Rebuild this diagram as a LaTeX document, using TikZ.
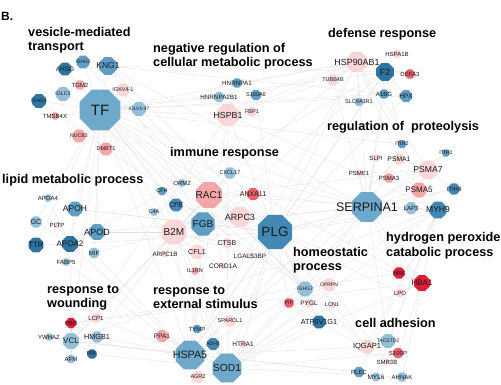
\documentclass[tikz,border=0pt]{standalone}
\usepackage{fontspec}
\setmainfont{Liberation Sans}
\usetikzlibrary{shapes.geometric,backgrounds}
\definecolor{dbl}{HTML}{2D74A2}
\definecolor{mdb}{HTML}{4288B4}
\definecolor{mbl}{HTML}{5E9DC4}
\definecolor{tfb}{HTML}{6EA8CA}
\definecolor{lbl}{HTML}{93BFD9}
\definecolor{lpk}{HTML}{FBD6D8}
\definecolor{pnk}{HTML}{F5A5A8}
\definecolor{rpk}{HTML}{EC6169}
\definecolor{red}{HTML}{E11D35}
\definecolor{edgegray}{HTML}{E2E2E2}
\begin{document}
\begin{tikzpicture}[x=1pt,y=-1pt,
  oct/.style={regular polygon, regular polygon sides=8, draw=none, inner sep=0pt, outer sep=0pt},
  lbl/.style={inner sep=0pt, text=black!90},
  cat/.style={font=\bfseries\fontsize{12.7}{14}\selectfont, anchor=base west, inner sep=0pt},
  edge/.style={draw=edgegray, line width=0.3pt}]
\useasboundingbox (0,0) rectangle (501,384);
% nodes
\foreach \nm/\px/\py/\sz/\col/\fs in {
TF/100/110/44/tfb/15, KNG1/108/66/19/mbl/8.5, AHSG/65/69/14/dbl/6.5, IGHG2/83/62/14/mbl/4.5,
TGM2/80/85/10/pnk/6, IGKV4-1/123/90/14/lpk/5.5, IGLC3/63/94/15/lbl/5, IGHG4/39/101/15/dbl/4.8,
IGLV1-47/139/109/15/lbl/4.7, TMSB4X/55/116/8/pnk/6, NUCB2/79/136/14/pnk/5, DMBT1/106/149/14/pnk/5.5,
HNRNPA1/237/83/10/mbl/6.3, HNRNPA2B1/219/97/11/lbl/6.3, S100A6/256/95/11/mbl/5.5, HSPB1/228/115/24/lpk/8.8,
FBP1/252/112/10/lpk/5.5, HSP90AB1/357/62/22/lpk/8.9, HSPA1B/397/54/9/lpk/6, F2/385/72/19/dbl/9,
DEFA3/410/74/10/rpk/6, TUBB4B/333/80/12/lpk/5.5, A1BG/384/94/10/mbl/6, HPX/406/96/13/mbl/6.5,
SLC9A3R1/359/102/9/lbl/5.5, ITIH2/402/144/9/mbl/5.5, ITIH1/446/153/8/mbl/5.5, SLPI/376/158/8/lpk/6,
PSMA1/399/159/12/lpk/6.8, PSME1/359/173/7/lpk/6, PSMA3/389/178/10/pnk/6, PSMA7/428/170/20/lpk/8.6,
PSMA5/419/190/16/pnk/8, ITIH4/454/189/12/mdb/6, SERPINA1/367/207/32/tfb/12.5, LAP3/411/208/13/lbl/6,
MYH9/438/210/18/mdb/8.5, APOA4/48/198/8/lbl/6, APOH/75/209/16/mbl/8.5, CFH/162/191/9/mbl/5.5,
ORM2/182/183/8/lbl/6, CXCL17/230/173/12/lbl/5.5, RAC1/209/195/28/pnk/10, ANXA11/253/194/13/rpk/7,
CFB/176/205/14/mdb/7, C4A/154/212/8/lbl/5.5, ARPC3/240/217/22/lpk/9, FGB/203/224/25/mbl/10,
PLG/275/232/37/mdb/13.5, B2M/174/232/27/lpk/10, GC/36/222/12/lbl/7, PLTP/57/225/7/lpk/6,
APOD/97/232/17/mbl/9, TTR/36/245/16/dbl/7.7, APOA2/70/244/17/dbl/8, MIF/94/253/11/lbl/6,
FABP5/66/262/8/lbl/6, CTSB/227/243/10/lpk/7, CFL1/197/252/15/lpk/7.2, ARPC1B/165/254/7/lpk/6.2,
LGALS3BP/250/256/7/lpk/6.3, IL1RN/195/271/8/pnk/5.5, CORO1A/223/266/7/lpk/6.6, IGHG3/305/289/16/lbl/5,
OPRPN/329/285/14/lpk/5, PIP/289/303/10/rpk/5.5, PYGL/309/303/9/lpk/6.5, LCN1/332/305/7/lpk/5.5,
ATP6V1G1/319/322/14/dbl/7.3, HBB/399/273/12/red/6, HBA1/422/283/17/red/8, LPO/400/293/9/lpk/6,
IQGAP1/367/347/15/lpk/7.5, TACSTD2/388/341/15/lbl/5, S100P/398/353/11/rpk/6, SMR3B/387/362/6/lpk/6,
PLEC/359/372/11/mbl/6, MYL6/376/377/9/lbl/6.5, AHNAK/402/377/10/lbl/6, HBD/71/323/11/red/6,
LCP1/96/318/10/lpk/6, YWHAZ/49/337/8/lbl/6, VCL/71/341/17/lbl/8, HMGB1/97/337/12/lbl/7.3,
PPL/92/354/10/dbl/5.5, AFM/71/359/9/lbl/6, PPA1/162/336/13/pnk/6.5, TYMP/197/329/9/mbl/6,
SPARCL1/230/321/12/lpk/5.5, ADH5/213/344/13/mdb/5, HTRA1/243/344/8/lpk/6.5, HSPA5/190/355/31/tfb/10.7,
SOD1/227/368/31/tfb/10.3, AGR2/198/377/13/lpk/5.5}
  \node[oct, fill=\col, minimum size=\sz pt] (\nm) at (\px,\py) {};
% labels
\foreach \nm/\fs in {
TF/15, KNG1/8.5, AHSG/6.5, IGHG2/4.8, TGM2/6, IGKV4-1/5.5, IGLC3/5.2, IGHG4/5, IGLV1-47/4.9, TMSB4X/6,
NUCB2/5.2, DMBT1/5.5, HNRNPA1/6.3, HNRNPA2B1/6.3, S100A6/5.5, HSPB1/8.8, FBP1/5.5, HSP90AB1/8.9,
HSPA1B/6, F2/9, DEFA3/6, TUBB4B/5.5, A1BG/6, HPX/6.5, SLC9A3R1/5.5, ITIH2/5.5, ITIH1/5.5, SLPI/6,
PSMA1/6.8, PSME1/6, PSMA3/6, PSMA7/8.6, PSMA5/8, ITIH4/6, SERPINA1/12.5, LAP3/6, MYH9/8.5, APOA4/6,
APOH/8.5, CFH/5.5, ORM2/6, CXCL17/5.5, RAC1/10, ANXA11/7, CFB/7, C4A/5.5, ARPC3/9, FGB/10, PLG/13.5,
B2M/10, GC/7, PLTP/6, APOD/9, TTR/7.7, APOA2/8, MIF/6, FABP5/6, CTSB/7, CFL1/7.2, ARPC1B/6.2,
LGALS3BP/6.3, IL1RN/5.5, CORO1A/6.6, IGHG3/5, OPRPN/5, PIP/5.5, PYGL/6.5, LCN1/5.5, ATP6V1G1/7.3,
HBB/6, HBA1/8, LPO/6, IQGAP1/7.5, TACSTD2/5, S100P/6, SMR3B/6, PLEC/6, MYL6/6.5, AHNAK/6, HBD/6,
LCP1/6, YWHAZ/6, VCL/8, HMGB1/7.3, PPL/5.5, AFM/6, PPA1/6.5, TYMP/6, SPARCL1/5.5, ADH5/5, HTRA1/6.5,
HSPA5/10.7, SOD1/10.3, AGR2/5.5}
  \node[lbl, font=\fontsize{\fs}{\fs}\selectfont] (L-\nm) at (\nm) {\nm};
% category labels
\node[cat, font=\bfseries\fontsize{12}{14}\selectfont] (cB) at (1,20) {B.};
\node[cat] (cV1) at (28,36) {vesicle-mediated};
\node[cat] (cV2) at (28,50) {transport};
\node[cat] (cN1) at (153,52) {negative regulation of};
\node[cat] (cN2) at (153,66.5) {cellular metabolic process};
\node[cat] (cD) at (328,37.5) {defense response};
\node[cat] (cP) at (327,130) {regulation of\ \ proteolysis};
\node[cat] (cL) at (2,183) {lipid metabolic process};
\node[cat] (cI) at (170,156) {immune response};
\node[cat] (cH1) at (386,241) {hydrogen peroxide};
\node[cat] (cH2) at (386,256) {catabolic process};
\node[cat] (cHo1) at (293,256) {homeostatic};
\node[cat] (cHo2) at (293,270) {process};
\node[cat] (cW1) at (47,293) {response to};
\node[cat] (cW2) at (47,307) {wounding};
\node[cat] (cE1) at (153,294) {response to};
\node[cat] (cE2) at (153,308.5) {external stimulus};
\node[cat] (cC) at (355,327) {cell adhesion};
% edges
\begin{pgfonlayer}{background}
\fill[white] (0,0) rectangle (501,384);
\foreach \a/\b in {
TF/KNG1, TF/AHSG, TF/IGHG2, TF/IGLC3, TF/IGHG4, TF/TGM2, TF/IGKV4-1, TF/IGLV1-47, TF/TMSB4X, TF/NUCB2,
TF/DMBT1, TF/APOH, TF/APOD, TF/APOA2, TF/TTR, TF/GC, TF/FGB, TF/PLG, TF/SERPINA1, TF/HSPB1,
TF/HNRNPA2B1, TF/RAC1, TF/B2M, TF/CFH, TF/CFB, TF/HSP90AB1, TF/F2, TF/HPX, TF/HSPA5, TF/SOD1,
TF/VCL, TF/ORM2, TF/HBA1, TF/MIF, TF/A1BG, TF/ITIH2,
PLG/FGB, PLG/KNG1, PLG/F2, PLG/SERPINA1, PLG/APOA2, PLG/APOH, PLG/CFB, PLG/ANXA11, PLG/ARPC3,
PLG/HSPA5, PLG/SOD1, PLG/ITIH4, PLG/HPX, PLG/IGHG3, PLG/HBA1, PLG/PIP, PLG/CTSB, PLG/CXCL17,
PLG/HSPB1, PLG/HSP90AB1, PLG/ATP6V1G1, PLG/LPO, PLG/IQGAP1, PLG/MYH9, PLG/LAP3, PLG/S100A6,
PLG/HTRA1, PLG/SPARCL1,
SERPINA1/F2, SERPINA1/A1BG, SERPINA1/ITIH1, SERPINA1/ITIH2, SERPINA1/ITIH4, SERPINA1/PSMA7,
SERPINA1/PSMA5, SERPINA1/SLPI, SERPINA1/PSME1, SERPINA1/LAP3, SERPINA1/MYH9, SERPINA1/HBB,
SERPINA1/HBA1, SERPINA1/HSPA5, SERPINA1/SOD1, SERPINA1/FGB, SERPINA1/KNG1, SERPINA1/APOD,
SERPINA1/TUBB4B, SERPINA1/HSP90AB1, SERPINA1/OPRPN, SERPINA1/IGHG3, SERPINA1/TACSTD2,
SERPINA1/ANXA11, SERPINA1/CXCL17,
HSPA5/SOD1, HSPA5/HSPB1, HSPA5/HSP90AB1, HSPA5/VCL, HSPA5/HMGB1, HSPA5/PPA1, HSPA5/TYMP, HSPA5/ADH5,
HSPA5/AGR2, HSPA5/RAC1, HSPA5/CFL1, HSPA5/B2M, HSPA5/MIF, HSPA5/YWHAZ, HSPA5/HSPA1B, HSPA5/PSMA1,
HSPA5/IQGAP1, HSPA5/MYH9, HSPA5/FABP5, HSPA5/APOA2, HSPA5/LCP1, HSPA5/PLEC,
SOD1/ADH5, SOD1/SPARCL1, SOD1/HTRA1, SOD1/AGR2, SOD1/PPA1, SOD1/HSPB1, SOD1/B2M, SOD1/CFL1,
SOD1/MYH9, SOD1/PIP, SOD1/PYGL, SOD1/ATP6V1G1, SOD1/S100P, SOD1/AHNAK, SOD1/HBA1, SOD1/LCN1,
SOD1/IL1RN, SOD1/PPL,
B2M/FGB, B2M/RAC1, B2M/CFL1, B2M/ARPC1B, B2M/CFH, B2M/C4A, B2M/ORM2, B2M/CFB, B2M/APOD, B2M/MIF,
B2M/IL1RN, B2M/CTSB, B2M/LGALS3BP, B2M/VCL, B2M/HMGB1,
RAC1/ARPC3, RAC1/CFL1, RAC1/CORO1A, RAC1/ANXA11, RAC1/CXCL17, RAC1/HSP90AB1, RAC1/IQGAP1,
RAC1/MYH9, RAC1/ARPC1B, RAC1/VCL, RAC1/LCP1, RAC1/PSMA7,
HSP90AB1/HSPA1B, HSP90AB1/F2, HSP90AB1/DEFA3, HSP90AB1/TUBB4B, HSP90AB1/HSPB1, HSP90AB1/S100A6,
HSP90AB1/HNRNPA1, HSP90AB1/PSMA7, HSP90AB1/PSMA1, HSP90AB1/MYH9, HSP90AB1/SLC9A3R1,
HSPB1/FBP1, HSPB1/HNRNPA1, HSPB1/HNRNPA2B1, HSPB1/S100A6, HSPB1/TUBB4B, HSPB1/MYH9, HSPB1/VCL,
F2/DEFA3, F2/HPX, F2/A1BG, F2/KNG1, F2/FGB, F2/APOA2, F2/ITIH2,
PSMA7/PSMA1, PSMA7/PSMA3, PSMA7/PSMA5, PSMA7/PSME1, PSMA7/ITIH1, PSMA7/ITIH4, PSMA7/MYH9,
MYH9/IQGAP1, MYH9/PLEC, MYH9/MYL6, MYH9/AHNAK, MYH9/TACSTD2, MYH9/LAP3, MYH9/VCL,
HBA1/HBB, HBA1/LPO, HBA1/HBD, HBA1/S100P, HBB/HBD,
VCL/HBD, VCL/LCP1, VCL/YWHAZ, VCL/HMGB1, VCL/PPL, VCL/AFM, VCL/PLEC,
APOA2/TTR, APOA2/APOA4, APOA2/GC, APOA2/PLTP, APOA2/APOD, APOA2/APOH, APOA2/FABP5, APOA2/AFM,
FGB/KNG1, FGB/CFB, FGB/CFH, FGB/APOH, FGB/ANXA11, KNG1/AHSG, KNG1/IGHG2, KNG1/HPX,
IGHG3/IGHG2, IGHG3/IGHG4, IGHG3/IGLC3, IGHG3/IGKV4-1, IGHG3/OPRPN, PIP/OPRPN, PIP/LCN1, PIP/SMR3B,
IQGAP1/TACSTD2, IQGAP1/S100P, SMR3B/OPRPN, CFL1/ARPC3, CFL1/CORO1A, ARPC3/ARPC1B}
  \draw[edge] (\a) -- (\b);
\end{pgfonlayer}
\end{tikzpicture}
\end{document}
